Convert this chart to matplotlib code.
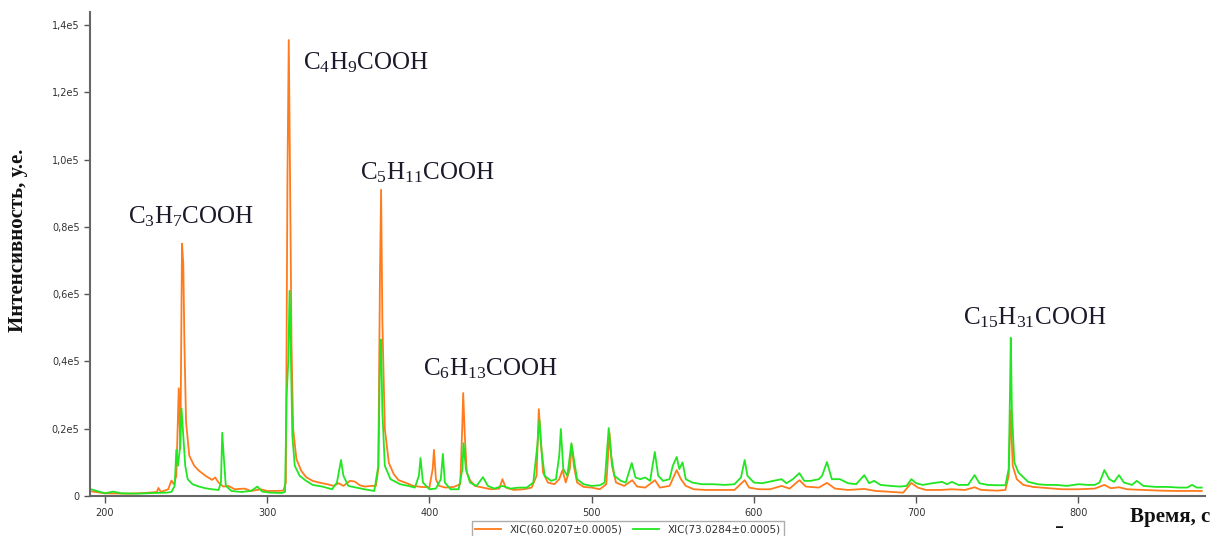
import matplotlib
matplotlib.use("Agg")
import matplotlib.pyplot as plt
import matplotlib.ticker as ticker

# XIC traces, time in s, intensity in arbitrary units
t_orange = [190, 200, 215, 225, 232, 233, 234.5, 239, 241, 242.5, 244, 245.5, 246.5, 247.5, 248.3,
            249, 250, 252, 255, 258, 262, 266, 268, 270, 273, 276, 280, 286, 290, 296, 300, 305,
            310, 311.5, 312.5, 313.3, 314, 315, 316, 318, 321, 324, 328, 332, 337, 341, 344, 347,
            351, 354, 357, 360, 364, 367, 368.5, 369.5, 370.2, 371, 372.5, 375, 378, 381, 385, 390,
            395, 400, 402, 402.8, 404, 406, 410, 415, 419, 420.2, 420.8, 421.8, 423, 425, 428, 433,
            438, 443, 445, 447, 452, 458, 463, 466, 467.4, 468.5, 470, 473, 477, 480, 482, 484,
            486.5, 487.7, 489, 491, 495, 500, 505, 509, 511, 512.5, 515, 520, 525, 528, 533, 539,
            542, 548, 552.4, 555, 558, 563, 570, 580, 588, 594.3, 597, 603, 610, 617, 622, 628,
            632, 640, 645, 650, 658, 668, 675, 685, 692, 697, 701, 706, 715, 722, 730, 736, 740,
            750, 755, 757, 758.2, 759.5, 762, 766, 772, 780, 790, 800, 810, 816, 820, 825, 830,
            840, 850, 860, 870, 876]
i_orange = [1500, 800, 700, 900, 1200, 2400, 1200, 2000, 4600, 3500, 6000, 32000, 14000, 75000, 69000,
            45000, 22000, 12000, 9000, 7500, 6000, 4800, 5500, 4000, 2800, 3000, 2000, 2200, 1500, 2000, 1500, 1500,
            1600, 4000, 95000, 135500, 100000, 45000, 20000, 11000, 7500, 5600, 4500, 4000, 3500, 3000, 3800, 3000,
            4500, 4300, 3200, 2800, 3000, 3000, 8000, 65000, 91000, 52000, 20000, 9800, 6500, 4700, 4000, 3000,
            2700, 2600, 8000, 13700, 5000, 3000, 2500, 2700, 3500, 20000, 30600, 18000, 7000, 4700, 3000, 2500,
            2000, 2200, 5000, 2500, 1800, 2000, 2500, 6000, 25800, 18000, 7000, 4000, 3500, 5000, 7700, 4000,
            8000, 15100, 9000, 4000, 2700, 2500, 2000, 3500, 18700, 9000, 4000, 3000, 4700, 2800, 2500, 4700,
            2500, 3000, 7700, 5000, 3000, 2000, 1800, 1800, 1800, 4700, 2500, 2000, 2000, 3000, 2200, 4700,
            2800, 2500, 3900, 2200, 1800, 2100, 1500, 1200, 1000, 3900, 2500, 1800, 1800, 2000, 1800, 2600, 1800,
            1600, 1800, 6000, 25500, 9000, 5000, 3300, 2700, 2400, 2000, 2000, 2200, 3300, 2300, 2600, 2000,
            1800, 1600, 1500, 1500, 1500]

t_green = [190, 195, 200, 205, 210, 220, 230, 238, 241, 243, 244, 245, 246.2, 247.2, 248.3, 249.5, 251,
           254, 258, 262, 266, 270, 271.5, 272.3, 273.2, 274.5, 278, 284, 290, 294, 297, 302, 309, 311,
           312, 313, 313.8, 314.5, 315.5, 317, 320, 324, 328, 334, 340, 343, 345.5, 347, 350, 355, 360,
           366, 368.5, 369.5, 370.2, 371, 372.5, 376, 382, 387, 391, 393.5, 394.5, 396, 400, 404, 407,
           408.3, 409.5, 413, 418, 420.3, 421, 422.5, 425, 429, 433, 436, 440, 445, 450, 455, 460, 464,
           466.5, 467.8, 469, 471, 475, 478, 480, 481, 482.5, 485, 487.5, 489, 491, 495, 500, 505, 508,
           510.5, 512, 514, 518, 521, 524.7, 527, 530, 533, 536, 538.9, 541, 544, 548, 550, 552.4, 554,
           556, 558, 562, 568, 575, 582, 588, 592, 594.3, 596, 600, 605, 612, 617, 620, 624, 628, 631,
           635, 640, 642, 645, 648, 653, 658, 663, 668, 671, 674, 678, 684, 690, 694, 697, 700, 704,
           710, 716, 719, 722, 726, 732, 736, 739, 744, 750, 755, 757, 757.8, 758.3, 759, 760.5, 763,
           769, 775, 780, 786, 793, 800, 806, 810, 813, 816, 819, 822, 825, 828, 833, 836, 840, 848,
           855, 862, 867, 870, 873, 876]
i_green = [2200, 1500, 800, 1300, 800, 700, 900, 1000, 1200, 3000, 13700, 9000, 14000, 26000, 18000, 9000, 5000,
           3500, 2800, 2300, 2000, 1800, 4000, 18800, 12000, 3000, 1500, 1200, 1500, 2800, 1300, 1000, 900, 1200,
           30000, 40000, 61000, 45000, 18000, 9000, 6000, 4500, 3300, 2800, 2000, 4000, 10700, 6000, 3000, 2500, 2000,
           1500, 9000, 40000, 46500, 25000, 9000, 5000, 3500, 3000, 2500, 6000, 11300, 4000, 2000, 2200, 5000,
           12500, 4000, 2000, 2000, 8000, 15700, 8000, 4000, 3000, 5600, 3000, 2200, 3000, 2200, 2500, 2500, 4000,
           15000, 22600, 14000, 6000, 4500, 5000, 12000, 19900, 8000, 6000, 15700, 11000, 5000, 3500, 3000, 3200, 4000,
           20200, 12000, 6000, 4500, 4000, 9800, 5500, 5000, 5500, 4500, 13100, 6000, 4500, 5000, 9000, 11600, 8000,
           10000, 5000, 4000, 3500, 3500, 3300, 3500, 5500, 10700, 6000, 4000, 3800, 4500, 5000, 3800, 5000, 6800, 4500,
           4500, 5000, 6000, 10100, 5000, 5000, 3800, 3500, 6200, 3800, 4500, 3300, 3000, 2800, 3000, 5000, 3800, 3300,
           3800, 4200, 3500, 4200, 3300, 3300, 6200, 3800, 3300, 3200, 3200, 8000, 30000, 47000, 25000, 10000, 7000,
           4200, 3500, 3300, 3300, 3000, 3500, 3300, 3300, 4000, 7700, 5000, 4200, 6200, 4000, 3300, 4500, 3000, 2700,
           2700, 2500, 2500, 3300, 2500, 2500]

y_ticks = [0, 20000, 40000, 60000, 80000, 100000, 120000, 140000]
x_ticks = [200, 300, 400, 500, 600, 700, 800]

peak_names = [r"C$\mathregular{_3}$H$\mathregular{_7}$COOH", r"C$\mathregular{_4}$H$\mathregular{_9}$COOH",
              r"C$\mathregular{_5}$H$\mathregular{_{11}}$COOH", r"C$\mathregular{_6}$H$\mathregular{_{13}}$COOH",
              r"C$\mathregular{_{15}}$H$\mathregular{_{31}}$COOH"]
peak_label_t = [214, 322, 357, 396, 728.6]
peak_label_i = [82900, 128900, 96200, 37700, 52900]

fig = plt.figure(figsize=(12.13, 5.36), dpi=100)
ax = fig.add_axes([90 / 1213, 1 - 496 / 536, 1115 / 1213, 484 / 536])

ax.plot(t_orange, i_orange, color='#ff7b1c', lw=1.3, label='XIC(60.0207±0.0005)')
ax.plot(t_green, i_green, color='#22e622', lw=1.3, label='XIC(73.0284±0.0005)')

ax.set_xlim(190.8, 878)
ax.set_ylim(0, 143840)
ax.set_xticks(x_ticks)
ax.set_yticks(y_ticks)


def sci_comma(v, pos):
    if v == 0:
        return '0'
    return '{:.1f}e5'.format(v / 1e5).replace('.', ',')


ax.yaxis.set_major_formatter(ticker.FuncFormatter(sci_comma))
ax.tick_params(axis='both', labelsize=7, colors='#555555', labelcolor='#333333',
               length=5, width=1)
ax.tick_params(axis='y', length=4)
for side in ['top', 'right']:
    ax.spines[side].set_visible(False)
for side in ['left', 'bottom']:
    ax.spines[side].set_color('#666666')
    ax.spines[side].set_linewidth(1.5)

for name, t, v in zip(peak_names, peak_label_t, peak_label_i):
    ax.text(t, v, name, fontsize=18, ha='left', va='center', color='#1a1a2a',
            family='Liberation Serif')

fig.text(18 / 1213, 1 - 240 / 536, 'Интенсивность, у.е.', rotation=90, ha='center', va='center',
         fontsize=15, fontweight='bold', family='Liberation Serif', color='#111111')
fig.text(1210 / 1213, 1 - 517 / 536, 'Время, с', ha='right', va='center',
         fontsize=15, fontweight='bold', family='Liberation Serif', color='#111111')
fig.text(1060 / 1213, 1 - 521 / 536, '_', ha='center', va='center', fontsize=10,
         fontweight='bold', color='#111111')

fig.legend(loc='upper center', bbox_to_anchor=(628 / 1213, 1 - 516 / 536), ncol=2,
           fontsize=7.5, frameon=True, fancybox=False, edgecolor='#999999',
           handlelength=2.5, borderpad=0.3, columnspacing=1.0, labelcolor='#333333')

fig.savefig('out.png', dpi=100)
